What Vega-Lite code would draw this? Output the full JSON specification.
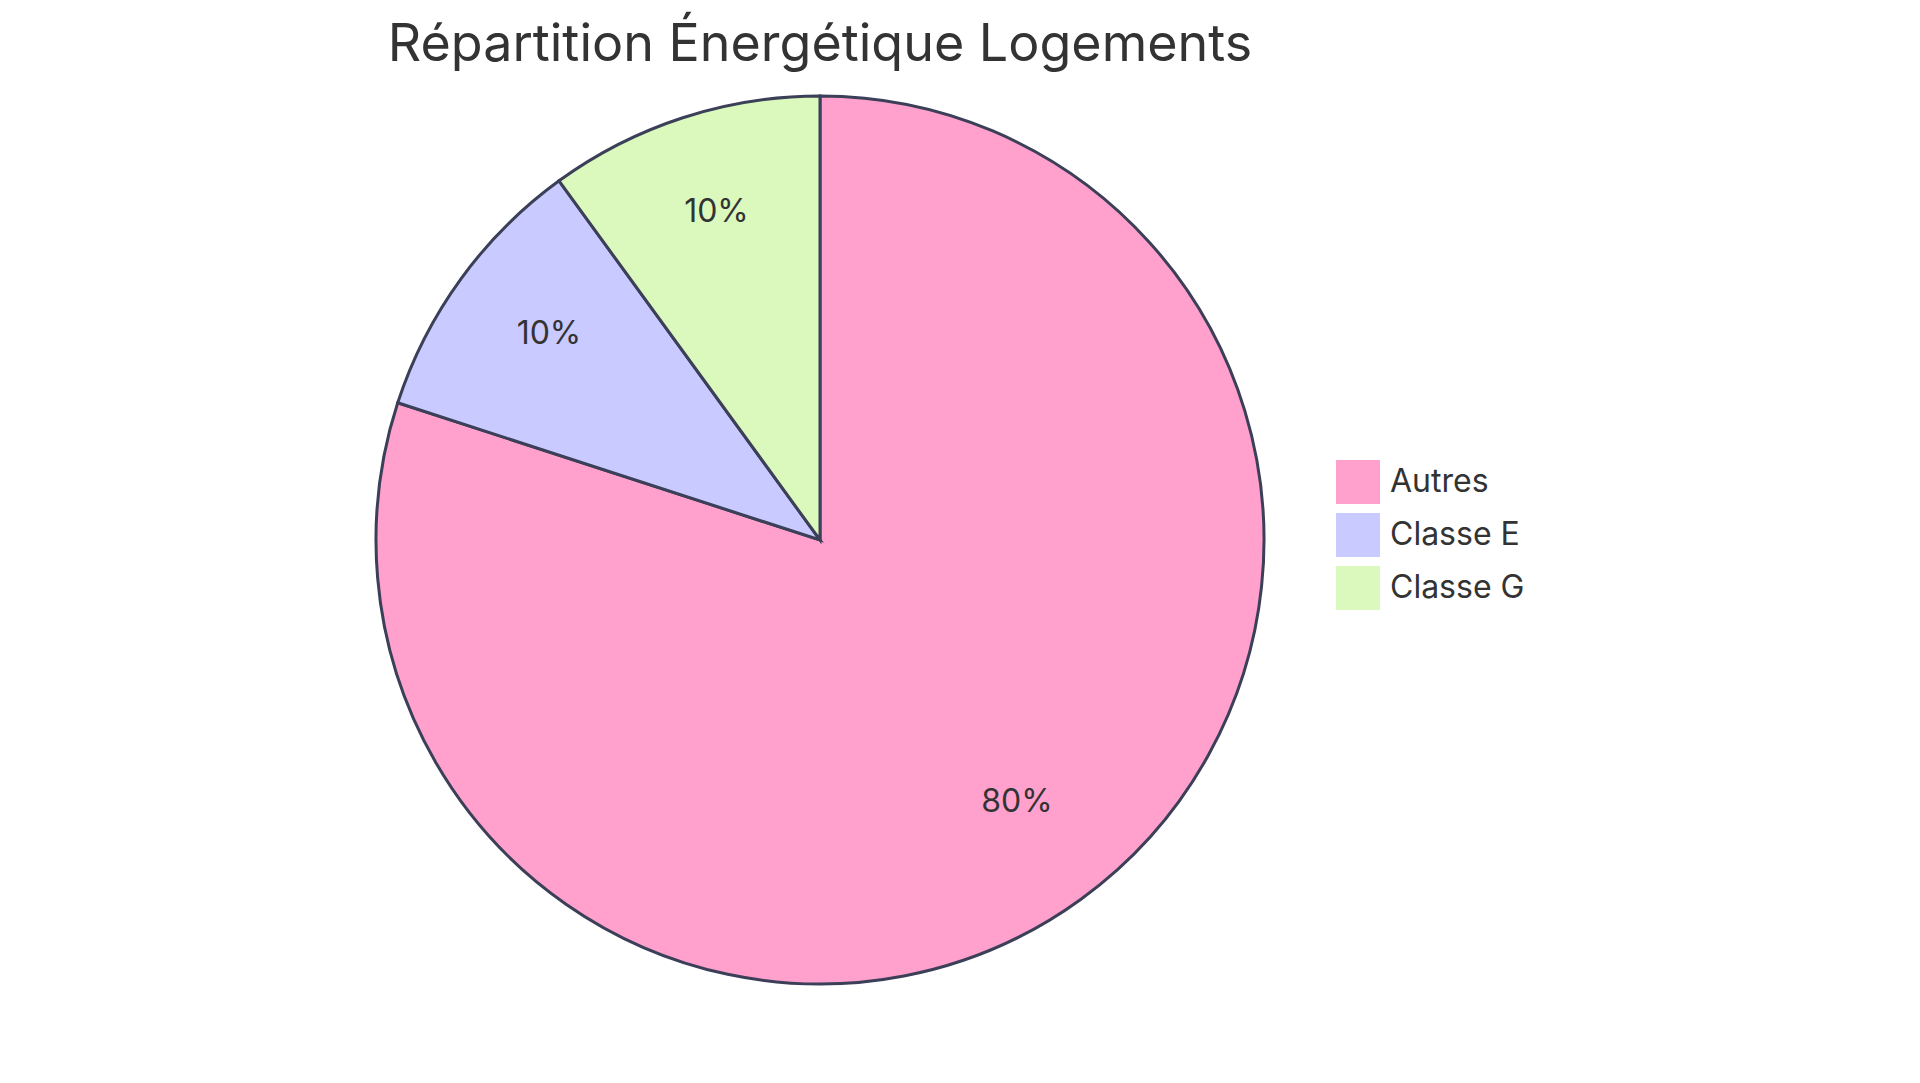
{
  "$schema": "https://vega.github.io/schema/vega-lite/v6.json",
  "autosize": {"type": "none"},
  "width": 1640,
  "height": 920,
  "padding": {"top": 80, "left": 0, "right": 280, "bottom": 83},
  "background": "white",
  "title": {
    "text": "Répartition Énergétique Logements",
    "anchor": "middle",
    "font": "Inter",
    "fontSize": 52,
    "fontWeight": "normal",
    "color": "#333333",
    "offset": 8
  },
  "data": {
    "values": [
      {"categorie": "Autres", "valeur": 80, "label": "80%"},
      {"categorie": "Classe E", "valeur": 10, "label": "10%"},
      {"categorie": "Classe G", "valeur": 10, "label": "10%"}
    ]
  },
  "encoding": {
    "theta": {"field": "valeur", "type": "quantitative", "stack": true},
    "order": {"field": "categorie", "type": "nominal"}
  },
  "layer": [
    {
      "mark": {"type": "arc", "outerRadius": 444, "stroke": "#3b3f58", "strokeWidth": 3},
      "encoding": {
        "color": {
          "field": "categorie",
          "type": "nominal",
          "scale": {
            "domain": ["Autres", "Classe E", "Classe G"],
            "range": ["#FFA1CC", "#C9CAFF", "#DBF9BC"]
          },
          "legend": {
            "title": null,
            "orient": "none",
            "legendX": 1336,
            "legendY": 380,
            "symbolType": "square",
            "symbolSize": 1936,
            "symbolStrokeWidth": 0,
            "symbolOpacity": 1,
            "labelFont": "Inter",
            "labelFontSize": 32,
            "labelColor": "#333333",
            "labelOffset": 10,
            "rowPadding": 9,
            "padding": 0
          }
        }
      }
    },
    {
      "mark": {"type": "text", "radius": 335, "dy": -9, "font": "Inter", "fontSize": 32, "color": "#333333"},
      "encoding": {
        "text": {"field": "label", "type": "nominal"},
        "detail": {"field": "categorie", "type": "nominal"}
      }
    }
  ]
}
